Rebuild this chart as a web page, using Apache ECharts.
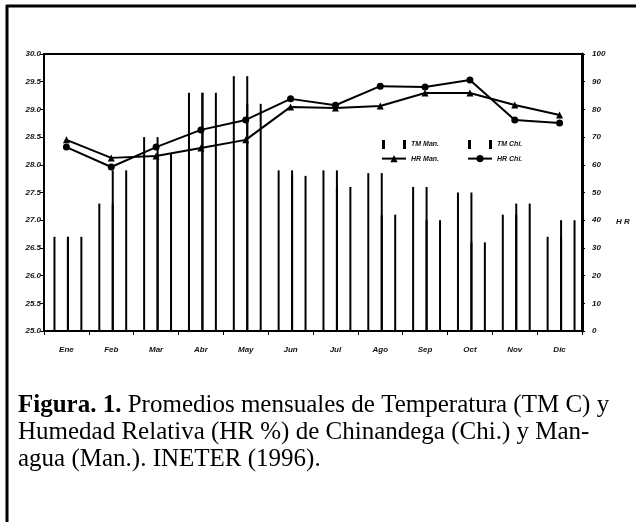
<!DOCTYPE html>
<html>
<head>
<meta charset="utf-8">
<script src="https://cdn.jsdelivr.net/npm/echarts@6/dist/echarts.min.js"></script>
<style>
html,body{margin:0;padding:0;background:#fff;}
#chart{width:636px;height:522px;}
</style>
</head>
<body>
<div id="chart"></div>
<script>
var months = ['Ene','Feb','Mar','Abr','May','Jun','Jul','Ago','Sep','Oct','Nov','Dic'];
var tmMan = [26.7, 27.3, 28.5, 29.3, 29.6, 27.9, 27.9, 27.85, 27.6, 27.5, 27.1, 26.7];
var tmChi = [26.7, 27.9, 28.2, 29.3, 29.1, 27.8, 27.6, 27.1, 27.0, 26.6, 27.3, 27.0];
var hrMan = [69.0, 62.5, 63.2, 66.1, 69.0, 80.9, 80.5, 81.2, 85.9, 85.9, 81.6, 78.0];
var hrChi = [66.4, 59.2, 66.4, 72.6, 76.2, 83.8, 81.5, 88.4, 88.1, 90.6, 76.2, 75.1];
var captionLines = [
  '{b|Figura. 1.} Promedios mensuales de Temperatura (TM C) y',
  'Humedad Relativa (HR %) de Chinandega (Chi.) y Man-',
  'agua (Man.). INETER (1996).'
];

var tickFont = {fontFamily:'Liberation Sans', fontStyle:'italic', fontWeight:'bold', fontSize:8, color:'#111'};

function barRender(side){
  return function(params, api){
    var idx = api.value(0), val = api.value(1);
    var top = api.coord([idx, val]);
    var base = api.coord([idx, 25]);
    var bw = api.size([1,0])[0]*0.3;
    var x0 = side < 0 ? top[0] - bw + 1.5 : top[0] + 1.5;
    var x1 = x0 + bw;
    return {type:'group', children:[
      {type:'line', shape:{x1:x0,y1:base[1],x2:x0,y2:top[1]}, style:{stroke:'#000',lineWidth:2}},
      {type:'line', shape:{x1:x1,y1:base[1],x2:x1,y2:top[1]}, style:{stroke:'#000',lineWidth:2}}
    ]};
  };
}
function pairs(arr){ return arr.map(function(v,i){ return [i, v]; }); }

var bracketIcon = 'path://M0,0 L3,0 L3,9 L0,9 Z M21,0 L24,0 L24,9 L21,9 Z';
var legendText = {fontFamily:'Liberation Sans', fontStyle:'italic', fontWeight:'bold', fontSize:7, color:'#111'};
var capFont = 25;

var chart = echarts.init(document.getElementById('chart'), null, {renderer:'canvas'});
chart.setOption({
  animation:false,
  backgroundColor:'#fff',
  grid:{left:44, right:54, top:54, bottom:191, show:true, borderColor:'#000', borderWidth:2, backgroundColor:'transparent'},
  legend:[
    {left:376, top:135, orient:'vertical', itemWidth:24, itemHeight:9, itemGap:6, textStyle:legendText,
     data:[{name:'TM Man.', icon:bracketIcon},{name:'HR Man.'}]},
    {left:462, top:135, orient:'vertical', itemWidth:24, itemHeight:9, itemGap:6, textStyle:legendText,
     data:[{name:'TM Chi.', icon:bracketIcon},{name:'HR Chi.'}]}
  ],
  xAxis:{type:'category', data:months, boundaryGap:true,
    axisLine:{lineStyle:{color:'#000', width:2}},
    axisTick:{show:true, length:4, lineStyle:{color:'#000', width:1}},
    axisLabel:Object.assign({margin:15}, tickFont),
    splitLine:{show:false}},
  yAxis:[
    {type:'value', min:25, max:30, interval:0.5, position:'left',
     axisLine:{show:true, lineStyle:{color:'#000', width:2}},
     axisTick:{show:true, length:4, lineStyle:{color:'#000'}},
     axisLabel:Object.assign({margin:3, formatter:function(v){return v.toFixed(1);}}, tickFont),
     splitLine:{show:false}},
    {type:'value', min:0, max:100, interval:10, position:'right',
     axisLine:{show:true, lineStyle:{color:'#000', width:3}},
     axisTick:{show:true, length:3, lineStyle:{color:'#000'}},
     axisLabel:Object.assign({margin:10}, tickFont),
     splitLine:{show:false}}
  ],
  series:[
    {name:'TM Man.', type:'custom', renderItem:barRender(-1), data:pairs(tmMan), itemStyle:{color:'#000'}, encode:{x:0,y:1}, z:2},
    {name:'TM Chi.', type:'custom', renderItem:barRender(1), data:pairs(tmChi), itemStyle:{color:'#000'}, encode:{x:0,y:1}, z:2},
    {name:'HR Man.', type:'line', yAxisIndex:1, data:hrMan, symbol:'triangle', symbolSize:7,
     lineStyle:{color:'#000', width:2}, itemStyle:{color:'#000'}, z:5},
    {name:'HR Chi.', type:'line', yAxisIndex:1, data:hrChi, symbol:'circle', symbolSize:7,
     lineStyle:{color:'#000', width:2}, itemStyle:{color:'#000'}, z:5}
  ],
  graphic:[
    {type:'line', shape:{x1:6,y1:6,x2:636,y2:6}, style:{stroke:'#000', lineWidth:3}},
    {type:'line', shape:{x1:7,y1:5,x2:7,y2:522}, style:{stroke:'#000', lineWidth:3}},
    {type:'text', left:616, top:218, style:{text:'H R', fontFamily:'Liberation Sans', fontStyle:'italic', fontWeight:'bold', fontSize:8, fill:'#111'}},
    {type:'text', left:18, top:393, style:{text:captionLines[0], fontFamily:'Liberation Serif', fontSize:capFont, fill:'#000',
      rich:{b:{fontFamily:'Liberation Serif', fontWeight:'bold', fontSize:capFont, fill:'#000'}}}},
    {type:'text', left:18, top:420, style:{text:captionLines[1], fontFamily:'Liberation Serif', fontSize:capFont, fill:'#000'}},
    {type:'text', left:18, top:447, style:{text:captionLines[2], fontFamily:'Liberation Serif', fontSize:capFont, fill:'#000'}}
  ]
});
</script>
</body>
</html>
